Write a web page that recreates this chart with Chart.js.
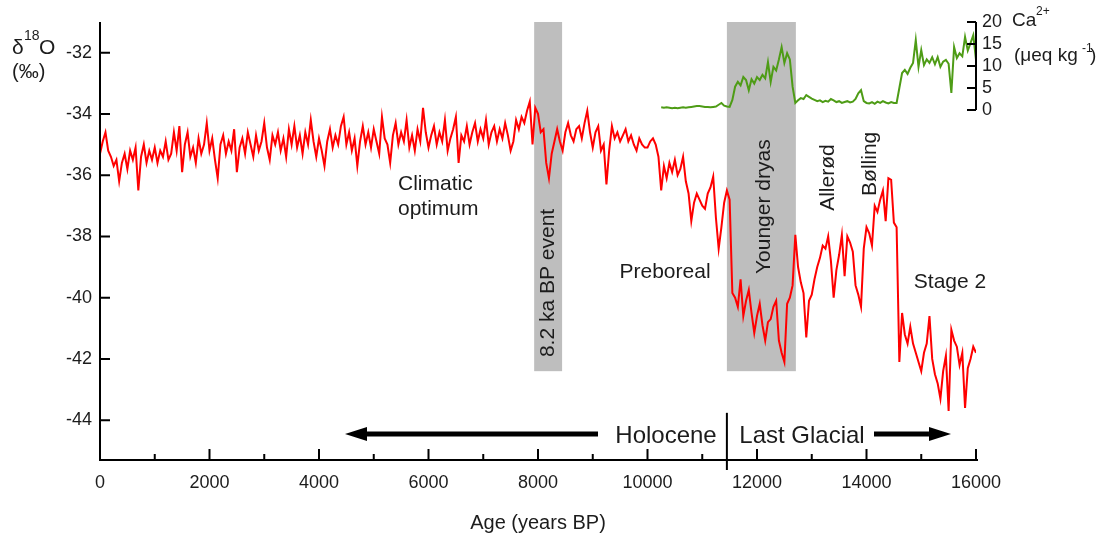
<!DOCTYPE html>
<html lang="en">
<head>
<meta charset="UTF-8" />
<title>δ18O and Ca2+ record, 0–16000 years BP</title>
<script src="https://cdn.jsdelivr.net/npm/chart.js@4.4.1/dist/chart.umd.min.js"></script>
<style>
  html,body{margin:0;padding:0;background:#fff}
  #wrap{width:1098px;height:540px;position:relative}
</style>
</head>
<body>
<div id="wrap"><canvas id="c"></canvas></div>
<script>
// δ18O (‰), one value every 50 years from 0 BP
const D18O_START = 0;
const D18O_STEP = 50;
const d18O = [
  -35.3, -34.9, -34.6, -35.2, -35.4, -35.7, -35.5, -36.2, -35.6, -35.3, -35.8, -35.2, -35.5, -35.1, -36.5, -35.4, -35.0, -35.6, -35.2, -35.5, // 0-950
  -35.1, -35.6, -35.2, -35.4, -34.9, -35.5, -35.3, -34.6, -35.2, -34.4, -35.9, -35.0, -34.6, -35.4, -35.1, -35.6, -34.8, -35.3, -35.0, -34.3, // 1000
  -35.2, -34.8, -35.5, -36.1, -35.0, -34.7, -35.3, -34.9, -35.2, -34.5, -35.9, -35.1, -34.8, -35.3, -34.6, -35.0, -35.4, -34.7, -35.2, -34.9, // 2000
  -34.3, -35.1, -35.5, -34.7, -35.0, -34.6, -35.2, -34.8, -35.4, -34.5, -35.0, -34.4, -35.1, -34.7, -35.3, -34.6, -35.0, -34.2, -34.9, -35.4, // 3000
  -34.8, -35.2, -35.7, -34.9, -34.5, -35.1, -34.7, -35.0, -34.4, -34.1, -35.0, -34.6, -35.2, -34.8, -35.7, -34.9, -34.4, -35.0, -34.6, -35.1, // 4000
  -34.5, -34.9, -35.3, -34.1, -34.8, -35.0, -35.6, -34.7, -34.3, -35.0, -34.6, -34.9, -34.2, -35.1, -34.7, -35.2, -34.5, -34.9, -33.8, -34.6, // 5000
  -35.1, -34.7, -34.4, -35.0, -34.6, -34.9, -34.2, -35.2, -34.8, -34.5, -34.1, -35.6, -34.7, -34.9, -34.4, -35.0, -34.6, -34.3, -34.9, -34.5, // 6000
  -34.8, -34.2, -35.0, -34.6, -34.4, -34.9, -34.5, -34.8, -34.3, -34.7, -35.2, -34.9, -34.2, -34.5, -34.1, -34.3, -33.9, -33.6, -35.0, -33.8, // 7000
  -34.0, -34.6, -34.5, -35.6, -36.1, -35.3, -34.9, -34.5, -34.9, -35.2, -34.6, -34.3, -34.7, -34.9, -34.5, -34.4, -34.8, -34.3, -33.9, -34.6, // 8000
  -35.1, -34.6, -34.4, -35.2, -35.0, -36.3, -35.2, -34.4, -34.8, -34.6, -34.9, -34.7, -34.5, -34.9, -34.7, -35.0, -35.2, -34.8, -35.0, -35.1, // 9000
  -35.1, -34.9, -34.8, -35.0, -35.4, -36.5, -35.7, -36.1, -35.6, -35.9, -35.5, -36.0, -35.8, -35.4, -36.2, -36.6, -37.5, -36.9, -36.6, -36.8, // 10000
  -37.0, -37.1, -36.6, -36.4, -36.05, -37.4, -38.4, -37.7, -36.9, -36.5, -36.8, -39.85, -40.0, -40.3, -39.4, -40.6, -40.1, -39.75, -40.5, -41.15, // 11000
  -40.6, -40.2, -40.9, -41.4, -40.8, -40.7, -40.3, -40.1, -41.4, -41.8, -42.1, -40.2, -40.0, -39.6, -37.95, -39.0, -39.5, -39.85, -41.3, -40.1, // 12000
  -39.9, -39.4, -39.0, -38.7, -38.3, -38.4, -38.0, -38.8, -40.0, -39.1, -38.6, -37.95, -39.3, -38.0, -38.2, -38.5, -39.6, -39.9, -40.3, -38.4, // 13000
  -37.7, -37.9, -38.3, -37.0, -37.2, -36.8, -36.5, -37.5, -36.1, -36.15, -37.55, -37.7, -42.1, -40.5, -41.2, -41.5, -40.95, -41.5, -41.8, -42.1, // 14000
  -42.4, -41.8, -41.5, -40.6, -42.0, -42.5, -42.8, -43.3, -42.4, -41.9, -43.7, -41.05, -41.4, -41.6, -42.2, -41.8, -43.6, -42.3, -42.0, -41.6, // 15000
  -41.8 // 16000
];

// Ca2+ (µeq/kg), one value every 50 years from 10250 BP
const CA_START = 10250;
const CA_STEP = 50;
const ca = [
  0.6, 0.5, 0.6, 0.5, 0.4, 0.5, 0.4, 0.5, 0.6, 0.5,
  0.6, 0.7, 0.8, 0.9, 0.9, 0.8, 0.7, 0.7, 0.6, 0.7,
  0.8, 1.2, 1.6, 1.0, 0.8, 0.7, 2.3, 5.3, 6.4, 5.6,
  7.5, 6.8, 4.5, 7.0, 6.0, 7.5, 6.8, 8.0, 7.2, 10.9,
  6.4, 9.8, 9.0, 11.5, 14.3, 10.7, 12.9, 11.5, 5.3, 1.6,
  2.2, 2.7, 2.5, 3.4, 3.0, 2.6, 2.3, 2.0, 2.2, 1.8,
  2.1, 1.9, 2.5, 2.2, 1.8, 2.0, 1.6, 1.8, 2.0, 1.7,
  1.9, 2.5, 3.8, 4.5, 2.0, 1.6, 1.5, 1.8, 1.4, 1.9,
  1.6, 2.0, 1.7, 1.5, 1.8, 1.6, 1.6, 5.0, 8.4, 9.1,
  8.2, 9.6, 10.7, 15.9, 9.8, 13.6, 10.2, 11.5, 10.7, 12.0,
  10.4, 12.0, 9.8, 11.0, 11.4, 10.5, 3.9, 14.3, 11.8, 12.9,
  12.2, 16.6, 13.5, 15.2, 17.0, 11.4
];

const X_TICKS = [0, 2000, 4000, 6000, 8000, 10000, 12000, 14000, 16000];
const X_MINOR = [1000, 3000, 5000, 7000, 9000, 11000, 13000, 15000];
const Y_TICKS = [-32, -34, -36, -38, -40, -42, -44];
const CA_TICKS = [0, 5, 10, 15, 20];

// shaded events (years BP) and their lower edge (‰)
const BANDS = [[7930, 8440], [11450, 12710]];
const BAND_BOTTOM = -42.4;
const HOLOCENE_END = 11450;

const FONT = '"Liberation Sans", Arial, sans-serif';
const INK = '#1c1c1c';

Chart.defaults.font.family = FONT;
Chart.defaults.color = INK;

function txt(ctx, s, x, y, size, align, rot) {
  ctx.save();
  ctx.font = size + 'px ' + FONT;
  ctx.fillStyle = INK;
  ctx.textAlign = align || 'center';
  ctx.textBaseline = 'middle';
  ctx.translate(x, y);
  if (rot) ctx.rotate(rot);
  ctx.fillText(s, 0, 0);
  ctx.restore();
}

function arrow(ctx, x0, tip, yy) {
  const dir = Math.sign(tip - x0);
  const head = 22;
  ctx.lineWidth = 5;
  ctx.beginPath();
  ctx.moveTo(x0, yy);
  ctx.lineTo(tip - dir * head, yy);
  ctx.stroke();
  ctx.beginPath();
  ctx.moveTo(tip, yy);
  ctx.lineTo(tip - dir * head, yy - 7);
  ctx.lineTo(tip - dir * head, yy + 7);
  ctx.closePath();
  ctx.fill();
}

const decor = {
  id: 'decor',
  beforeDatasetsDraw(chart) {
    const { ctx, chartArea, scales: { x, y } } = chart;
    ctx.save();
    ctx.fillStyle = '#bebebe';
    for (const [a, b] of BANDS) {
      const x0 = x.getPixelForValue(a);
      const x1 = x.getPixelForValue(b);
      ctx.fillRect(x0, chartArea.top, x1 - x0, y.getPixelForValue(BAND_BOTTOM) - chartArea.top);
    }
    ctx.restore();
  },
  afterDraw(chart) {
    const { ctx, chartArea: area, scales: { x, y, y2 } } = chart;
    ctx.save();
    ctx.strokeStyle = '#000';
    ctx.fillStyle = '#000';
    ctx.lineWidth = 2;
    ctx.lineCap = 'butt';

    // left and bottom axes, ticks point inwards
    ctx.beginPath();
    ctx.moveTo(area.left, area.top);
    ctx.lineTo(area.left, area.bottom);
    ctx.lineTo(area.right + 2, area.bottom);
    ctx.stroke();
    ctx.beginPath();
    for (const v of Y_TICKS) {
      const py = y.getPixelForValue(v);
      ctx.moveTo(area.left, py);
      ctx.lineTo(area.left + 10, py);
    }
    for (const v of X_TICKS) {
      const px = x.getPixelForValue(v);
      ctx.moveTo(px, area.bottom);
      ctx.lineTo(px, area.bottom - 11);
    }
    for (const v of X_MINOR) {
      const px = x.getPixelForValue(v);
      ctx.moveTo(px, area.bottom);
      ctx.lineTo(px, area.bottom - 6);
    }
    ctx.stroke();

    // right Ca axis (0-20 only)
    const rx = area.right;
    ctx.beginPath();
    ctx.moveTo(rx, y2.getPixelForValue(0));
    ctx.lineTo(rx, y2.getPixelForValue(20));
    for (const v of CA_TICKS) {
      const py = y2.getPixelForValue(v);
      ctx.moveTo(rx, py);
      ctx.lineTo(rx - 9, py);
    }
    ctx.stroke();
    for (const v of CA_TICKS) {
      txt(ctx, String(v), rx + 6, y2.getPixelForValue(v), 18, 'left');
    }

    // Holocene / Last Glacial divider and arrows
    const dx = x.getPixelForValue(HOLOCENE_END);
    ctx.beginPath();
    ctx.moveTo(dx, y.getPixelForValue(-43.76));
    ctx.lineTo(dx, area.bottom + 10);
    ctx.stroke();
    const ay = y.getPixelForValue(-44.45);
    arrow(ctx, x.getPixelForValue(9096), x.getPixelForValue(4475), ay);
    arrow(ctx, x.getPixelForValue(14137), x.getPixelForValue(15543), ay);
    ctx.restore();

    // axis titles
    txt(ctx, 'δ', 12, 48, 21, 'left');
    txt(ctx, '18', 24, 36, 14, 'left');
    txt(ctx, 'O', 39, 48, 21, 'left');
    txt(ctx, '(‰)', 12, 72, 20, 'left');
    txt(ctx, 'Ca', 1012, 21, 19, 'left');
    txt(ctx, '2+', 1036, 12, 12, 'left');
    txt(ctx, '(μeq kg', 1014, 56, 19, 'left');
    txt(ctx, '-1', 1082, 49, 12, 'left');
    txt(ctx, ')', 1090, 56, 19, 'left');
    txt(ctx, 'Age (years BP)', 538, 523, 20, 'center');

    // period labels, placed in data coordinates
    const P = (yr, v) => [x.getPixelForValue(yr), y.getPixelForValue(v)];
    const up = -Math.PI / 2;
    let p;
    p = P(5443, -36.31); txt(ctx, 'Climatic', p[0], p[1], 21, 'left');
    p = P(5443, -37.10); txt(ctx, 'optimum', p[0], p[1], 21, 'left');
    p = P(8183, -39.52); txt(ctx, '8.2 ka BP event', p[0], p[1], 21, 'center', up);
    p = P(10320, -39.16); txt(ctx, 'Preboreal', p[0], p[1], 21, 'center');
    p = P(12128, -37.03); txt(ctx, 'Younger dryas', p[0], p[1], 21, 'center', up);
    p = P(13297, -36.08); txt(ctx, 'Allerød', p[0], p[1], 21, 'center', up);
    p = P(14064, -35.63); txt(ctx, 'Bølling', p[0], p[1], 21, 'center', up);
    p = P(15525, -39.48); txt(ctx, 'Stage 2', p[0], p[1], 21, 'center');
    p = P(10338, -44.52); txt(ctx, 'Holocene', p[0], p[1], 24, 'center');
    p = P(12822, -44.52); txt(ctx, 'Last Glacial', p[0], p[1], 24, 'center');
  }
};

const redPts = d18O.map((v, i) => ({ x: D18O_START + i * D18O_STEP, y: v }));
const greenPts = ca.map((v, i) => ({ x: CA_START + i * CA_STEP, y: v }));

new Chart(document.getElementById('c'), {
  type: 'line',
  data: {
    datasets: [
      { label: 'δ18O', data: redPts, yAxisID: 'y', borderColor: '#ff0000', borderWidth: 2, pointRadius: 0, tension: 0 },
      { label: 'Ca2+', data: greenPts, yAxisID: 'y2', borderColor: '#4e9c16', borderWidth: 2, pointRadius: 0, tension: 0 }
    ]
  },
  options: {
    responsive: true,
    maintainAspectRatio: false,
    animation: false,
    layout: { padding: { left: 0, right: 122, top: 22, bottom: 0 } },
    plugins: { legend: { display: false }, tooltip: { enabled: false } },
    scales: {
      x: {
        type: 'linear', min: 0, max: 16000,
        grid: { display: false, drawTicks: false },
        border: { display: false },
        afterBuildTicks: s => { s.ticks = X_TICKS.map(v => ({ value: v })); },
        afterFit: s => { s.height = 80; },
        ticks: { font: { size: 18 }, color: INK, padding: 12, maxRotation: 0, autoSkip: false, callback: v => String(v) }
      },
      y: {
        type: 'linear', min: -45.3, max: -31,
        grid: { display: false, drawTicks: false },
        border: { display: false },
        afterBuildTicks: s => { s.ticks = Y_TICKS.map(v => ({ value: v })); },
        afterFit: s => { s.width = 100; },
        ticks: { font: { size: 18 }, color: INK, padding: 8, autoSkip: false, callback: v => String(v) }
      },
      y2: { type: 'linear', display: false, min: -79.55, max: 20 }
    }
  },
  plugins: [decor]
});
</script>
</body>
</html>
